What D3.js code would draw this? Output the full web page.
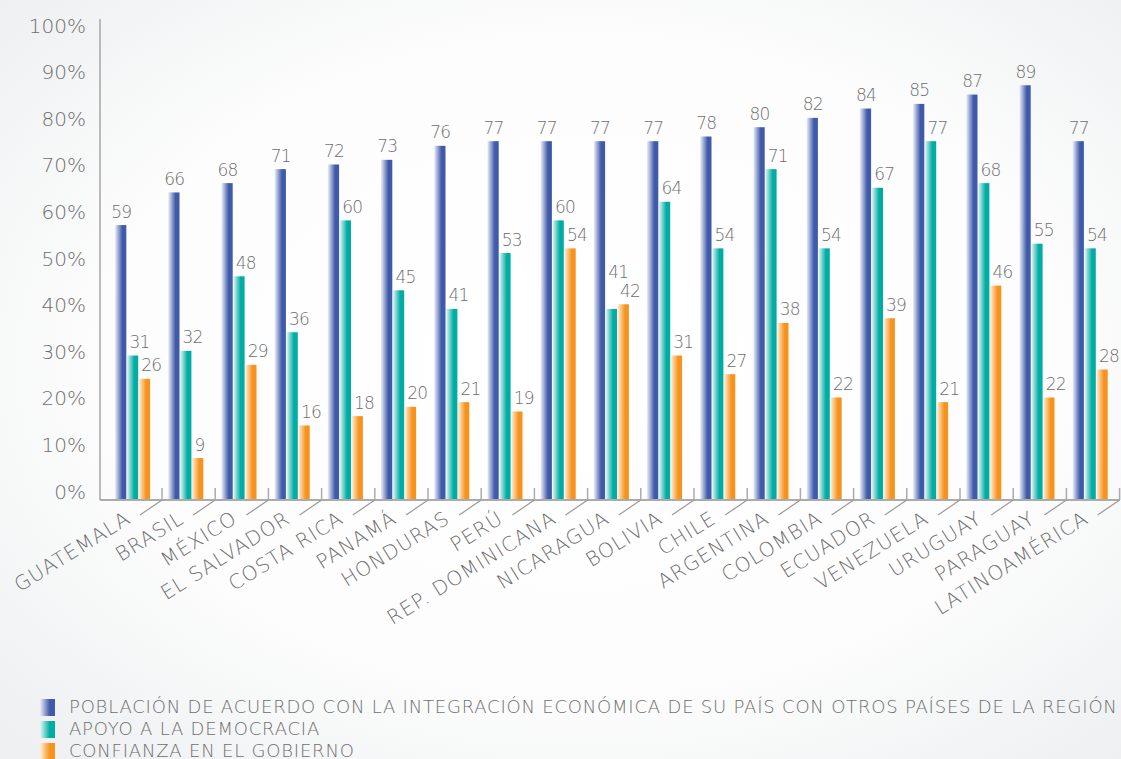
<!DOCTYPE html>
<html>
<head>
<meta charset="utf-8">
<script src="https://cdn.jsdelivr.net/npm/d3@7"></script>
<style>
  html, body { margin: 0; padding: 0; background: #fff; }
  svg { display: block; }
  text { font-family: "DejaVu Sans", sans-serif; font-weight: 200; fill: #6e6e6e; }
</style>
</head>
<body>
<script>
// Countries (x categories)
const categories = ["GUATEMALA", "BRASIL", "MÉXICO", "EL SALVADOR", "COSTA RICA", "PANAMÁ",
  "HONDURAS", "PERÚ", "REP. DOMINICANA", "NICARAGUA", "BOLIVIA", "CHILE", "ARGENTINA",
  "COLOMBIA", "ECUADOR", "VENEZUELA", "URUGUAY", "PARAGUAY", "LATINOAMÉRICA"];

// Series values (%)
const integracion = [59, 66, 68, 71, 72, 73, 76, 77, 77, 77, 77, 78, 80, 82, 84, 85, 87, 89, 77];
const democracia  = [31, 32, 48, 36, 60, 45, 41, 53, 60, 41, 64, 54, 71, 54, 67, 77, 68, 55, 54];
const gobierno    = [26,  9, 29, 16, 18, 20, 21, 19, 54, 42, 31, 27, 38, 22, 39, 21, 46, 22, 28];

const seriesNames = [
  "POBLACIÓN DE ACUERDO CON LA INTEGRACIÓN ECONÓMICA DE SU PAÍS CON OTROS PAÍSES DE LA REGIÓN",
  "APOYO A LA DEMOCRACIA",
  "CONFIANZA EN EL GOBIERNO"
];

// Y axis ticks
const yTicks = [0, 10, 20, 30, 40, 50, 60, 70, 80, 90, 100];

const W = 1121, H = 759;
const series = [integracion, democracia, gobierno];
const palette = [
  { light: "#eceef8", dark: "#3f5aa9" },
  { light: "#e6f6f4", dark: "#00ada4" },
  { light: "#fff0de", dark: "#f7931d" }
];

const svg = d3.select("body").append("svg").attr("width", W).attr("height", H);
const defs = svg.append("defs");

// soft page background
const bg = defs.append("radialGradient").attr("id", "bg")
  .attr("cx", "52%").attr("cy", "48%").attr("r", "70%");
bg.append("stop").attr("offset", "0%").attr("stop-color", "#ffffff");
bg.append("stop").attr("offset", "60%").attr("stop-color", "#fdfdfd");
bg.append("stop").attr("offset", "100%").attr("stop-color", "#eef0f1");
svg.append("rect").attr("width", W).attr("height", H).attr("fill", "url(#bg)");

// horizontal bar gradients (light left edge -> saturated right edge)
palette.forEach((p, i) => {
  const g = defs.append("linearGradient").attr("id", "grad" + i)
    .attr("x1", "0%").attr("x2", "100%").attr("y1", "0%").attr("y2", "0%");
  g.append("stop").attr("offset", "0%").attr("stop-color", p.light);
  g.append("stop").attr("offset", "65%").attr("stop-color", p.dark);
  g.append("stop").attr("offset", "100%").attr("stop-color", p.dark);
});

const axisX = 100;
const y = d3.scaleLinear().domain([0, 100]).range([500, 34]);
const x = d3.scaleBand().domain(categories).range([108.8, 108.8 + 53.2 * categories.length]).padding(0);
const xSub = d3.scaleBand().domain([0, 1, 2]).range([6.2, 41.3]).paddingInner(0.05);

// Y axis line and labels
svg.append("line")
  .attr("x1", axisX).attr("x2", axisX)
  .attr("y1", y(103.2)).attr("y2", y(0))
  .attr("stroke", "#ababab").attr("stroke-width", 1.6);

svg.selectAll(".ytick").data(yTicks).enter().append("text")
  .attr("class", "ytick")
  .attr("x", 86).attr("y", d => y(d) - 1.5)
  .attr("text-anchor", "end")
  .style("font-size", "20px")
  .text(d => d + "%");

// Bars
const groups = svg.selectAll(".grp").data(categories).enter().append("g")
  .attr("class", "grp")
  .attr("transform", d => `translate(${x(d)},0)`);

series.forEach((vals, s) => {
  groups.append("rect")
    .attr("x", xSub(s))
    .attr("width", xSub.bandwidth())
    .attr("y", (d, i) => y(vals[i]))
    .attr("height", (d, i) => y(0) - y(vals[i]))
    .attr("fill", `url(#grad${s})`);
});

// Value labels: first series centred over its bar, the others start near the
// bar's left edge; a label is lifted when it would collide with its neighbour
const labelSize = 17;
groups.each(function (d, i) {
  const g = d3.select(this);
  const base = series.map(vals => y(vals[i]) - 7.5);
  if (Math.abs(base[1] - base[2]) < labelSize + 1 && base[2] <= base[1] + labelSize) {
    base[1] = Math.min(base[1], base[2] - (labelSize + 2));
  }
  series.forEach((vals, s) => {
    const first = s === 0;
    g.append("text")
      .attr("x", first ? xSub(s) + xSub.bandwidth() / 2 + 0.5 : xSub(s) + 2.5)
      .attr("y", base[s])
      .attr("text-anchor", first ? "middle" : "start")
      .style("font-size", labelSize + "px")
      .style("letter-spacing", "-0.8px")
      .text(vals[i]);
  });
});

// X axis baseline, ticks and slanted leaders
const xEnd = x.range()[1];
svg.append("line")
  .attr("x1", axisX).attr("x2", xEnd)
  .attr("y1", y(0)).attr("y2", y(0))
  .attr("stroke", "#ababab").attr("stroke-width", 2);

categories.forEach(c => {
  const tx = x(c) + x.bandwidth();
  svg.append("line")
    .attr("x1", tx).attr("x2", tx).attr("y1", y(0)).attr("y2", y(0) - 12)
    .attr("stroke", "#ababab").attr("stroke-width", 1.5);
  svg.append("line")
    .attr("x1", tx).attr("x2", tx - 22).attr("y1", y(0)).attr("y2", y(0) + 15)
    .attr("stroke", "#9a9a9a").attr("stroke-width", 1.2);
  svg.append("text")
    .attr("transform", `translate(${tx - 30},${y(0) + 22}) rotate(-32)`)
    .attr("text-anchor", "end")
    .style("font-size", "20px")
    .style("letter-spacing", "1px")
    .text(c);
});

// Legend
const legend = svg.append("g").attr("transform", "translate(40,699)");
seriesNames.forEach((name, i) => {
  const row = legend.append("g").attr("transform", `translate(0,${i * 22})`);
  row.append("rect").attr("width", 15).attr("height", 17).attr("fill", `url(#grad${i})`);
  row.append("text")
    .attr("x", 29).attr("y", 13.5)
    .style("font-size", "18px")
    .style("letter-spacing", "0.8px")
    .text(name);
});
</script>
</body>
</html>
